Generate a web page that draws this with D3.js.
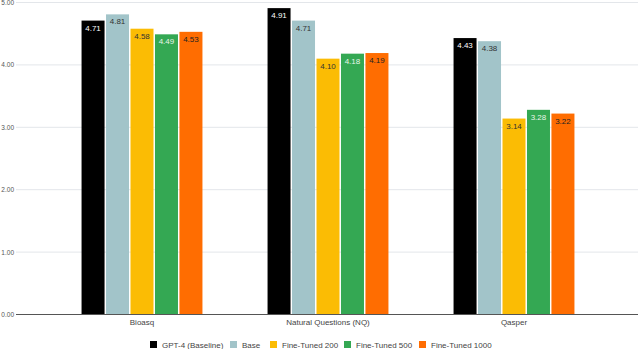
<!DOCTYPE html>
<html>
<head>
<meta charset="utf-8">
<script src="https://cdn.jsdelivr.net/npm/d3@7"></script>
<style>
  body { margin: 0; background: #fff; }
  svg { display: block; font-family: "Liberation Sans", Arial, sans-serif; }
</style>
</head>
<body>
<div class="container"></div>
<script>
const categories = ['Bioasq', 'Natural Questions (NQ)', 'Qasper'];
const seriesNames = ['GPT-4 (Baseline)', 'Base', 'Fine-Tuned 200', 'Fine-Tuned 500', 'Fine-Tuned 1000'];
const gpt4 = [4.71, 4.91, 4.43];
const base = [4.81, 4.71, 4.38];
const ft200 = [4.58, 4.10, 3.14];
const ft500 = [4.49, 4.18, 3.28];
const ft1000 = [4.53, 4.19, 3.22];
const yTicks = [0, 1, 2, 3, 4, 5];

const colors = ['#000000', '#a2c4c9', '#fbbc04', '#34a853', '#ff6d01'];
const labelColors = ['#ffffff', '#333333', '#333333', '#e8f5e9', '#222222'];
const fontFam = '"Liberation Sans", Arial, sans-serif';

const width = 640, height = 349;
const allSeries = [gpt4, base, ft200, ft500, ft1000];

const svg = d3.select('.container').append('svg')
  .attr('width', width).attr('height', height);

const y = d3.scaleLinear().domain([0, 5]).range([314.5, 2.5]);
const x = d3.scaleBand().domain(categories).range([49, 607]).paddingInner(0.35).paddingOuter(0.175);
const xs = d3.scaleBand().domain(seriesNames).range([0, x.bandwidth()]).paddingInner(0.06);

// gridlines
svg.append('g').selectAll('line').data(yTicks.filter(d => d > 0)).enter().append('line')
  .attr('x1', 16).attr('x2', 638)
  .attr('y1', d => y(d)).attr('y2', d => y(d))
  .attr('stroke', '#e3e6ea').attr('stroke-width', 1);

// y tick labels
const yAxis = d3.axisLeft(y).tickValues(yTicks).tickFormat(d3.format('.2f')).tickSize(0).tickPadding(2);
svg.append('g').attr('transform', 'translate(16,0)').call(yAxis)
  .call(g => g.select('.domain').remove())
  .selectAll('text').attr('font-size', 6.5).attr('fill', '#555').attr('font-family', fontFam);

// bars
const rows = [];
categories.forEach((c, i) => {
  seriesNames.forEach((s, j) => rows.push({cat: c, s: s, j: j, v: allSeries[j][i]}));
});

svg.append('g').selectAll('rect').data(rows).enter().append('rect')
  .attr('x', d => x(d.cat) + xs(d.s))
  .attr('y', d => y(d.v))
  .attr('width', xs.bandwidth())
  .attr('height', d => y(0) - y(d.v))
  .attr('fill', d => colors[d.j]);

svg.append('g').selectAll('text').data(rows).enter().append('text')
  .attr('x', d => x(d.cat) + xs(d.s) + xs.bandwidth() / 2)
  .attr('y', d => y(d.v) + 10)
  .attr('text-anchor', 'middle')
  .attr('font-size', 8)
  .attr('fill', d => labelColors[d.j])
  .text(d => d.v.toFixed(2));

// baseline
svg.append('line').attr('x1', 16).attr('x2', 638)
  .attr('y1', y(0)).attr('y2', y(0))
  .attr('stroke', '#555').attr('stroke-width', 1);

// x axis labels
const xAxis = d3.axisBottom(x).tickSize(0).tickPadding(5);
svg.append('g').attr('transform', 'translate(0,' + y(0) + ')').call(xAxis)
  .call(g => g.select('.domain').remove())
  .selectAll('text').attr('font-size', 8).attr('fill', '#444').attr('font-family', fontFam);

// legend
const legendX = [150, 230, 270, 344, 419];
const legend = svg.append('g').selectAll('g').data(seriesNames).enter().append('g')
  .attr('transform', (d, i) => 'translate(' + legendX[i] + ',341)');
legend.append('rect').attr('width', 7).attr('height', 7).attr('fill', (d, i) => colors[i]);
legend.append('text').attr('x', 12).attr('y', 6.5)
  .attr('font-size', 8).attr('fill', '#444').text(d => d);
</script>
</body>
</html>
